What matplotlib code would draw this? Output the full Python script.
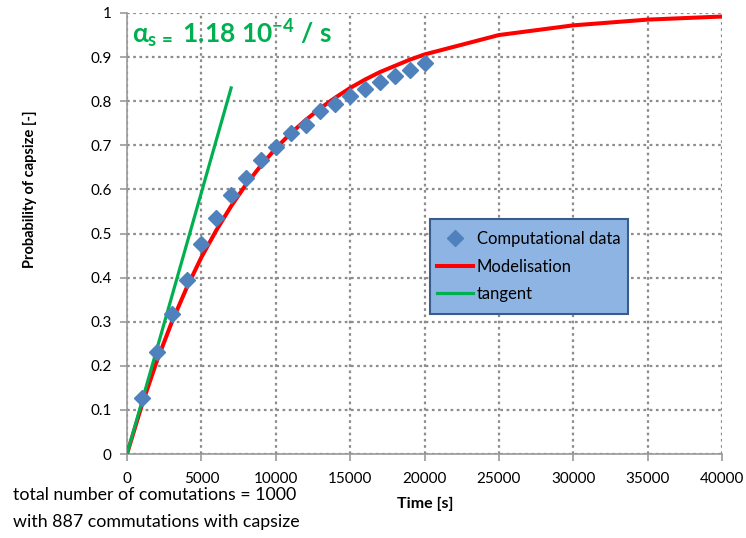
import matplotlib
matplotlib.use("Agg")
import matplotlib.pyplot as plt
from matplotlib.lines import Line2D
from matplotlib.patches import Rectangle

plt.rcParams['font.family'] = ['Lato', 'DejaVu Sans']
plt.rcParams['mathtext.fontset'] = 'custom'
plt.rcParams['mathtext.rm'] = 'Lato:bold'
plt.rcParams['mathtext.bf'] = 'Lato:bold'
plt.rcParams['mathtext.it'] = 'Lato:bold'

# Computational data
time_data = [1000, 2000, 3000, 4000, 5000, 6000, 7000, 8000, 9000, 10000,
             11000, 12000, 13000, 14000, 15000, 16000, 17000, 18000, 19000, 20000]
prob_data = [0.127, 0.231, 0.317, 0.395, 0.476, 0.535, 0.587, 0.626, 0.667, 0.696,
             0.728, 0.746, 0.778, 0.794, 0.812, 0.828, 0.844, 0.857, 0.871, 0.887]

# Modelisation curve
time_model = [0, 1000, 2000, 3000, 4000, 5000, 6000, 7000, 8000, 9000, 10000,
              11000, 12000, 13000, 14000, 15000, 16000, 17000, 18000, 19000, 20000,
              25000, 30000, 35000, 40000]
prob_model = [0.0, 0.111, 0.210, 0.298, 0.376, 0.446, 0.507, 0.562, 0.611, 0.654, 0.693,
              0.727, 0.757, 0.784, 0.808, 0.830, 0.849, 0.866, 0.880, 0.894, 0.906,
              0.950, 0.972, 0.985, 0.992]

# Tangent
time_tan = [0, 7000]
prob_tan = [0.0, 0.83]

xticks = [0, 5000, 10000, 15000, 20000, 25000, 30000, 35000, 40000]
yticks = [0, 0.1, 0.2, 0.3, 0.4, 0.5, 0.6, 0.7, 0.8, 0.9, 1]
ytick_labels = ['0', '0.1', '0.2', '0.3', '0.4', '0.5', '0.6', '0.7', '0.8', '0.9', '1']

W, H = 746, 538
fig = plt.figure(figsize=(W/100, H/100), dpi=100)
ax = fig.add_axes([127/W, 1-454/H, 595/W, 441/H])

grid_c = '#8C8C8C'
ax.plot(time_model, prob_model, color='#FF0000', lw=2.9, zorder=3, label='Modelisation',
        solid_joinstyle='round')
ax.plot(time_tan, prob_tan, color='#00B050', lw=2.3, zorder=3, label='tangent')
ax.plot(time_data, prob_data, ls='none', marker='D', ms=8.3, color='#4F81BD',
        mec='#4F81BD', zorder=4, label='Computational data')

ax.set_xlim(0, 40000)
ax.set_ylim(0, 1)
ax.set_xticks(xticks)
ax.set_xticklabels([str(v) for v in xticks])
ax.set_yticks(yticks)
ax.set_yticklabels(ytick_labels)
ax.grid(True, color=grid_c, ls=(0, (1.2, 1.6)), lw=1.6)
ax.set_axisbelow(True)

for s in ['top', 'right']:
    ax.spines[s].set_visible(False)
for s in ['left', 'bottom']:
    ax.spines[s].set_color('#999999')
    ax.spines[s].set_linewidth(1.2)
ax.tick_params(axis='both', colors='#999999', labelcolor='black', labelsize=11,
               length=5, width=1.2, direction='out')
ax.tick_params(axis='x', pad=8)
ax.tick_params(axis='y', pad=6)

ax.set_xlabel('Time [s]', fontsize=11.5, fontweight='bold')
ax.xaxis.set_label_coords((425-127)/595, -(497-454)/441)
ax.set_ylabel('Probability of capsize [-]', fontsize=10.5, fontweight='bold')
ax.yaxis.set_label_coords(-(127-37)/595, (454-189)/441)

ax.text(0.008, (454-43)/441, r'$\alpha_{s\,=}$' + r' 1.18 10$^{-4}$ / s', transform=ax.transAxes,
        fontsize=19, fontweight='bold', color='#00B050', va='baseline', ha='left')

fig.text(13/W, 1-495/H, 'total number of comutations = 1000', fontsize=12.8,
         va='center', ha='left')
fig.text(13/W, 1-522/H, 'with 887 commutations with capsize', fontsize=12.8,
         va='center', ha='left')

# Legend box (drawn as a rectangle in axes coordinates)
box = Rectangle(((430-127)/595, (454-314)/441), (628-430)/595, (314-219)/441,
                transform=ax.transAxes, facecolor='#8EB4E3', edgecolor='#385D8A',
                lw=1.5, zorder=5, clip_on=False)
ax.add_patch(box)

handles = [Line2D([], [], ls='none', marker='D', ms=8.3, color='#4F81BD'),
           Line2D([], [], color='#FF0000', lw=2.9),
           Line2D([], [], color='#00B050', lw=2.3)]
labels = ['Computational data', 'Modelisation', 'tangent']
leg = ax.legend(handles, labels, loc='center left',
                bbox_to_anchor=((437-127)/595, (454-266.5)/441),
                borderaxespad=0, borderpad=0, fontsize=12, frameon=False,
                handlelength=2.15, handletextpad=0.25, labelspacing=0.68)
leg.set_zorder(6)

fig.savefig('out.png', dpi=100)
